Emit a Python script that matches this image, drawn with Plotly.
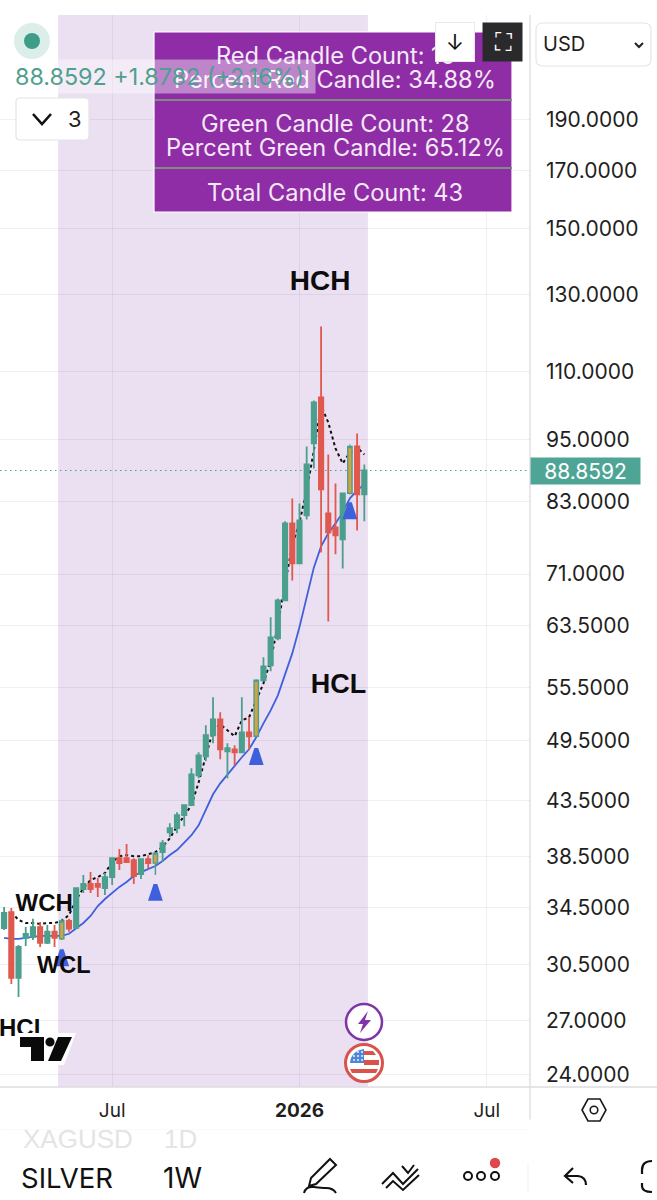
import re
import numpy as np
import pandas as pd
import plotly.graph_objects as go

W, H = 657, 1200

# ---------- data ----------
dates = pd.date_range("2025-03-17", periods=51, freq="W-MON")
opens = [32.99,34.15,29.61,32.29,32.36,33.06,31.94,32.73,32.22,33.5,33.0,35.9,36.29,36.29,35.97,36.84,38.37,38.37,38.22,37.08,38.3,37.97,38.88,
         40.59,40.95,42.12,43.04,45.92,47.85,50.08,51.84,48.37,48.58,48.27,50.4,49.97,56.41,58.27,61.78,67.07,79.24,72.67,80.63,94.23,104.08,80.97,78.57,76.54,84.56,93.61,84.38]
highs = [34.52,34.45,31.8,33.06,33.65,33.42,33.2,33.2,33.65,33.65,35.97,37.0,37.24,36.76,37.16,38.45,39.14,39.57,38.37,38.3,38.63,38.88,39.92,
         41.39,42.39,43.04,46.62,48.27,51.17,54.37,52.63,49.21,49.0,54.37,52.06,56.53,59.29,64.65,67.36,79.6,83.64,82.74,93.61,103.4,121.38,92.01,86.41,84.56,94.02,96.29,90.04]
lows = [32.84,29.22,28.41,31.73,32.15,31.66,31.87,31.66,32.15,32.73,32.95,35.59,35.59,35.28,35.43,36.21,37.4,37.97,36.29,36.69,37.54,37.0,38.05,
        40.16,40.5,41.12,43.04,45.63,47.33,49.21,47.54,45.63,46.93,48.27,48.48,49.87,56.29,57.52,61.51,67.07,70.04,72.67,79.93,89.26,74.42,64.09,74.1,71.88,84.38,78.05,79.59]
closes = [34.08,29.61,31.66,32.58,33.06,31.94,32.73,32.29,33.5,32.95,35.97,36.29,35.9,36.06,36.84,38.37,37.97,38.05,36.92,38.3,37.97,38.8,39.65,
          40.95,42.12,43.04,46.02,47.95,50.08,51.84,48.58,48.69,48.27,50.4,49.97,56.41,58.14,61.91,67.07,79.24,72.67,79.75,90.04,102.97,85.29,77.72,77.22,84.56,93.61,84.38,88.8592]
highlight_dates = ["2025-05-12", "2025-08-11", "2025-11-17", "2026-02-16"]
slow_ma = [32.29,32.22,32.22,32.29,32.36,32.43,32.43,32.43,32.43,32.58,32.95,33.35,33.86,34.6,35.13,35.59,36.06,36.45,36.92,37.24,37.47,37.73,38.14,
           38.64,39.06,39.66,40.33,41.21,42.66,44.07,45.13,46.02,46.83,47.75,48.58,49.87,51.39,52.86,54.61,57.02,59.8,63.3,67.5,72.04,75.39,77.55,79.24,81.15,83.65,85.11,86.23]
fast_ma = [None,34.15,33.57,33.35,33.35,33.28,33.35,33.35,33.5,33.93,35.05,35.97,36.6,36.84,37.16,38.05,38.54,38.63,38.54,38.54,38.71,38.88,39.32,
           40.07,41.12,42.12,43.04,45.22,47.95,50.62,51.28,50.62,49.97,51.73,52.06,54.01,56.04,58.9,63.54,69.58,75.55,79.41,85.11,92.81,102.3,98.6,93.21,90.23,92.41,93.41,92.01]
signal_prices = [31.46, 36.25, 48.65, 82.84]
label_text = ["HCH", "HCL", "WCH", "WCL", "HCL"]
label_dates = ["2026-01-18", "2026-02-05", "2025-04-25", "2025-05-14", "2025-04-05"]
label_prices = [133.5, 55.64, 34.7, 30.3, 26.43]
tick_prices = [190, 170, 150, 130, 110, 95, 83, 71, 63.5, 55.5, 49.5, 43.5, 38.5, 34.5, 30.5, 27, 24]
tick_labels = ["190.0000","170.0000","150.0000","130.0000","110.0000","95.0000","83.0000","71.0000","63.5000","55.5000","49.5000","43.5000","38.5000","34.5000","30.5000","27.0000","24.0000"]
x_ticks = ["2025-06-30", "2025-12-29", "2026-06-29"]
x_labels = ["Jul", "<b>2026</b>", "Jul"]
last_price = 88.8592
x_range = ["2025-03-13", "2026-08-10"]
y_range = [23.38, 238.3]

GREEN, RED, ORANGE = "#4b9f8d", "#e0594e", "#d3a33f"
BLUE = "#3f60dc"
PURPLE = "#8f2da6"
TXT = "#1f1f22"
FONT = "Inter, Roboto, sans-serif"
LABEL_SIZES = [28, 27, 24, 23.5, 24]

# ---------- helpers (pixel -> paper, decoration only) ----------
px = lambda x: x / W
py = lambda y: 1 - y / H

def path(s):
    toks = re.findall(r"[MLQCZ]|-?\d+\.?\d*", s)
    out, is_x = [], True
    for t in toks:
        if t.isalpha():
            out.append(t)
            is_x = True
        else:
            v = float(t)
            out.append(f"{px(v):.5f}" if is_x else f"{py(v):.5f}")
            is_x = not is_x
    return " ".join(out)

shapes = []
def pshape(s, fill=None, line=None, lw=0):
    shapes.append(dict(type="path", path=path(s), xref="paper", yref="paper",
                       fillcolor=fill or "rgba(0,0,0,0)",
                       line=dict(color=line or "rgba(0,0,0,0)", width=lw)))
def circ(cx, cy, r, fill=None, line=None, lw=0):
    shapes.append(dict(type="circle", xref="paper", yref="paper", x0=px(cx-r), x1=px(cx+r), y0=py(cy+r), y1=py(cy-r),
                       fillcolor=fill or "rgba(0,0,0,0)", line=dict(color=line or "rgba(0,0,0,0)", width=lw)))
def rect(x0, y0, x1, y1, fill=None, line=None, lw=0):
    shapes.append(dict(type="rect", xref="paper", yref="paper", x0=px(x0), x1=px(x1), y0=py(y1), y1=py(y0),
                       fillcolor=fill or "rgba(0,0,0,0)", line=dict(color=line or "rgba(0,0,0,0)", width=lw)))
def rrect(x0, y0, x1, y1, r, fill=None, line=None, lw=1):
    pshape(f"M {x0+r} {y0} L {x1-r} {y0} Q {x1} {y0} {x1} {y0+r} L {x1} {y1-r} Q {x1} {y1} {x1-r} {y1} "
           f"L {x0+r} {y1} Q {x0} {y1} {x0} {y1-r} L {x0} {y0+r} Q {x0} {y0} {x0+r} {y0} Z", fill, line, lw)

annos = []
def text(x, y, s, size=20, color=TXT, anchor="center", **kw):
    annos.append(dict(xref="paper", yref="paper", x=px(x), y=py(y), text=s, showarrow=False, xanchor=anchor, yanchor="middle",
                      font=dict(family=kw.pop("family", FONT), size=size, color=color), borderpad=0, **kw))

# ---------- traces ----------
fig = go.Figure()
is_hl = pd.Series(dates).dt.strftime("%Y-%m-%d").isin(highlight_dates).values
arr = lambda a, m: np.array(a, dtype=float)[m]

fig.add_trace(go.Scatter(x=dates, y=slow_ma, mode="lines", line=dict(color=BLUE, width=1.8), zorder=0, hoverinfo="skip"))
fig.add_trace(go.Scatter(x=dates, y=fast_ma, mode="lines", line=dict(color="#111111", width=2, dash="3px,3px"), zorder=0, hoverinfo="skip"))
fig.add_trace(go.Scatter(x=x_range, y=[last_price]*2, mode="lines", line=dict(color="#4f9f92", width=1.2, dash="1.5px,3.5px"), zorder=0, hoverinfo="skip"))
fig.add_trace(go.Candlestick(x=dates[~is_hl], open=arr(opens, ~is_hl), high=arr(highs, ~is_hl), low=arr(lows, ~is_hl), close=arr(closes, ~is_hl),
                             increasing=dict(line=dict(color=GREEN, width=1.8), fillcolor=GREEN),
                             decreasing=dict(line=dict(color=RED, width=1.8), fillcolor=RED),
                             whiskerwidth=0, zorder=1, hoverinfo="skip"))
fig.add_trace(go.Candlestick(x=dates[is_hl], open=arr(opens, is_hl), high=arr(highs, is_hl), low=arr(lows, is_hl), close=arr(closes, is_hl),
                             increasing=dict(line=dict(color=GREEN, width=1.4), fillcolor=ORANGE),
                             decreasing=dict(line=dict(color=RED, width=1.4), fillcolor=ORANGE),
                             whiskerwidth=0, zorder=1, hoverinfo="skip"))
fig.add_trace(go.Scatter(x=pd.to_datetime(highlight_dates), y=signal_prices, mode="markers",
                         marker=dict(symbol="arrow", size=15, color=BLUE, line=dict(color=BLUE, width=4)), zorder=2, hoverinfo="skip"))
fig.add_trace(go.Scatter(x=pd.to_datetime(label_dates), y=label_prices, mode="text", text=label_text,
                         textfont=dict(family="Liberation Sans, Arial", size=LABEL_SIZES, color="#0c0c0c", weight="bold"),
                         textposition="middle center", zorder=3, hoverinfo="skip"))

# ---------- decoration ----------
shapes.append(dict(type="rect", xref="x", yref="paper", x0="2025-05-08 12:00", x1="2026-03-05 12:00", y0=py(1087), y1=py(15),
                   fillcolor="#ebdff2", line=dict(width=0), layer="below"))
pshape("M 530 15 L 530 1129", None, "#d9d9dd", 1.2)
pshape("M 0 1087 L 657 1087", None, "#dcdce0", 1.5)
pshape("M 0 1129 L 530 1129", None, "#ececef", 1.2)
pshape("M 528 1162 L 528 1192", None, "#f1f1f3", 1)
circ(32, 41, 18, "#dceeea")
circ(32, 41, 8, "#3f9c86")
rect(154, 32, 512, 212, PURPLE, "#ffffff", 1.2)
pshape("M 155 100 L 512 100", None, "#7f8a80", 2)
pshape("M 155 168 L 512 168", None, "#7f8a80", 2)
rrect(536, 23, 651, 66, 7, "#ffffff", "#e6e6ea", 1.2)
pshape("M 635 43 L 639 47 L 643 43", None, "#222222", 2)
rrect(16, 98, 89, 140, 4, "#ffffff", "#e3e3e6", 1.2)
pshape("M 33 114 L 42 124 L 51 114", None, "#111111", 2.6)
circ(364, 1022, 18, "#ffffff", "#7f35a8", 2.5)
pshape("M 368 1011 L 358 1024 L 363 1024 L 360 1033 L 371 1020 L 365 1020 Z", "#7f35a8")
circ(364, 1063, 18.5, "#ffffff", "#d9534a", 3)
pshape("M 364 1049 L 364 1063 L 350 1063 Q 351 1051 364 1049 Z", "#4d86d6")
pshape("M 364 1051 L 373 1051 L 376 1055 L 364 1055 Z", "#d9534a")
pshape("M 364 1060 L 379 1060 L 379 1065 L 364 1065 Z", "#d9534a")
pshape("M 350 1069 L 378 1069 L 376 1073 L 352 1073 Z", "#d9534a")
for cx, cy in [(354, 1060), (358, 1060), (362, 1060), (354, 1056), (358, 1056), (362, 1056), (358, 1052), (362, 1052)]:
    circ(cx, cy, 0.9, "#ffffff")
pshape("M 16 1033 L 76 1033 L 64 1065 L 28 1065 L 28 1051 L 16 1051 Z", "#ffffff")
pshape("M 20 1037 L 44 1037 L 44 1061 L 31 1061 L 31 1047 L 20 1047 Z", "#0a0a0a")
circ(50, 1042, 4.6, "#0a0a0a")
pshape("M 58 1037 L 72 1037 L 61 1061 L 48 1061 Z", "#0a0a0a")
pshape("M 582 1110 L 588 1099 L 600 1099 L 606 1110 L 600 1121 L 588 1121 Z", None, "#1a1a1a", 1.6)
circ(594, 1110, 3.8, None, "#1a1a1a", 1.6)
pshape("M 330 1159 L 336 1165 L 316 1184 L 309 1186 L 311 1178 Z", None, "#111111", 2)
pshape("M 304 1193 Q 306 1186 314 1187 Q 322 1188 326 1188 Q 333 1188 336 1193", None, "#111111", 2)
pshape("M 382 1184 L 393 1173 L 403 1184 L 418 1169", None, "#111111", 2)
pshape("M 386 1188 L 393 1181 L 403 1190 L 419 1175", None, "#111111", 2)
pshape("M 402 1166 L 408 1173 L 414 1165", None, "#111111", 2)
for cx in (468, 481, 495):
    circ(cx, 1176, 4, None, "#111111", 2)
circ(495, 1163, 5.2, "#e0474c")
pshape("M 573 1168 L 565 1176 L 573 1183", None, "#111111", 2.2)
pshape("M 566 1176 L 578 1176 Q 586 1177 586 1185", None, "#111111", 2.2)
pshape("M 652 1161 Q 642 1161 642 1170 L 642 1174", None, "#111111", 2.2)
pshape("M 642 1183 L 642 1186 Q 642 1192 652 1192", None, "#111111", 2.2)

# ---------- text on top ----------
for y, s in [(56, "Red Candle Count: 15"), (80, "Percent Red Candle: 34.88%"), (124, "Green Candle Count: 28"),
             (148, "Percent Green Candle: 65.12%"), (192, "Total Candle Count: 43")]:
    text(335, y, s, 23.6, "#f4e9f6")
text(0, 76, " ", 10, anchor="left", width=314, height=33, bgcolor="rgba(255,255,255,0.42)")
text(14, 76, "88.8592 +1.8782 (+2.16%)", 23.3, "#4f9f8f", anchor="left")
text(454.5, 42.5, "↓", 22, "#111111", width=38, height=38, bgcolor="#ffffff", bordercolor="#e9e9ec", borderwidth=1)
text(502, 42.5, "⛶", 24, "#ffffff", width=39, height=38, bgcolor="#2a2a2c", family="DejaVu Sans")
text(542, 44, "USD", 20, TXT, anchor="left")
text(75, 119, "3", 22, TXT)
text(585.5, 471, "88.8592", 21, "#ffffff", width=109, height=26, bgcolor="#4fa595")
text(22, 1139, "XAGUSD", 26, "#e4e4e6", anchor="left", family="Liberation Sans")
text(163, 1139, "1D", 26, "#e4e4e6", anchor="left", family="Liberation Sans")
text(0, 1124, " ", 10, anchor="left", width=530, height=9, bgcolor="#ffffff")
text(67, 1178, "SILVER", 27.5, "#111111")
text(182, 1178, "1W", 28, "#111111")

fig.update_layout(
    width=W, height=H, margin=dict(l=0, r=0, t=0, b=0, pad=0), autosize=False,
    paper_bgcolor="#ffffff", plot_bgcolor="rgba(0,0,0,0)", showlegend=False, boxgap=0.14,
    shapes=shapes, annotations=annos, font=dict(family=FONT, color=TXT), hovermode=False,
    xaxis=dict(domain=[0, 530 / W], type="date", range=x_range, rangeslider=dict(visible=False), tickmode="array",
               tickvals=x_ticks, ticktext=x_labels, tickfont=dict(size=19, color=TXT), showgrid=True,
               gridcolor="rgba(110,110,130,0.10)", gridwidth=1.2, ticks="", ticklabelstandoff=10, showline=False, zeroline=False),
    yaxis=dict(domain=[py(1087), py(15)], type="log", side="right", range=list(np.log10(y_range)), tickmode="array",
               tickvals=tick_prices, ticktext=tick_labels, tickfont=dict(size=21, color=TXT), showgrid=True,
               gridcolor="rgba(110,110,130,0.10)", gridwidth=1.2, ticks="", ticklabelstandoff=15, showline=False, zeroline=False),
)
fig.write_html("out.html", config=dict(displayModeBar=False), post_script="document.body.style.margin='0';")
